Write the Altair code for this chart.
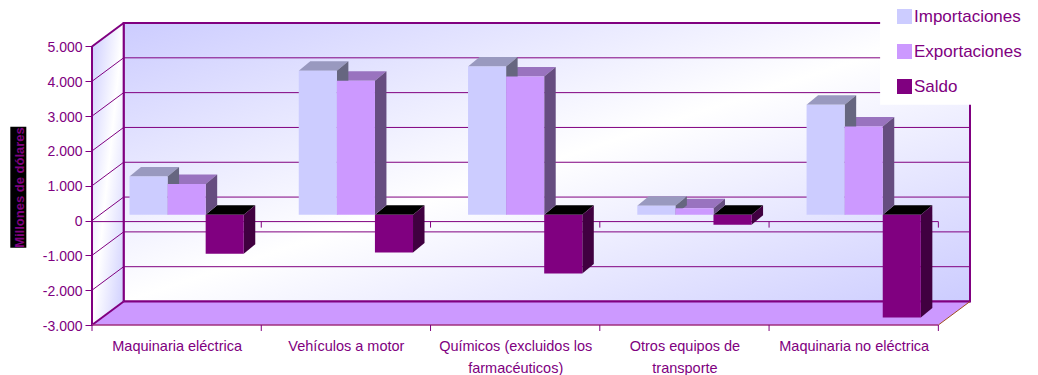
import altair as alt
import pandas as pd

categories = ["Maquinaria eléctrica", "Vehículos a motor", "Químicos (excluidos los farmacéuticos)",
              "Otros equipos de transporte", "Maquinaria no eléctrica"]
category_lines = [["Maquinaria eléctrica"], ["Vehículos a motor"],
                  ["Químicos (excluidos los", "farmacéuticos)"],
                  ["Otros equipos de", "transporte"], ["Maquinaria no eléctrica"]]
importaciones = [1100, 4134, 4258, 258, 3158]
exportaciones = [880, 3850, 3970, 190, 2535]
saldo = [-1120, -1082, -1685, -290, -2950]
series_names = ["Importaciones", "Exportaciones", "Saldo"]
series_values = [importaciones, exportaciones, saldo]
front_colors = ["#ccccff", "#cc99ff", "#800080"]
top_colors = ["#9999bf", "#9973bf", "#000000"]
side_colors = ["#666680", "#664d80", "#400040"]
y_ticks = [-3000, -2000, -1000, 0, 1000, 2000, 3000, 4000, 5000]

PURPLE = "#800080"
FONT = "Liberation Sans"
# scale domains (the 3D "room" extends beyond the front plane)
X_MAX = 5.187
Y_MIN, Y_MAX = -3000, 5675
WALL_DX, WALL_DY = 0.187, 675          # depth of the room
BAR_START, BAR_W = 0.2215, 0.225       # bar placement inside a category
BAR_BASE = 167                         # bar base plane above the zero plane
BAR_DX, BAR_DY = 0.068, 273            # depth of a bar
TICK = 172
ZERO_NUDGE = -30

xs = alt.Scale(domain=[0, X_MAX], nice=False, zero=False)
ys = alt.Scale(domain=[Y_MIN, Y_MAX], nice=False, zero=False)
X = lambda f="x": alt.X(f"{f}:Q", scale=xs, axis=None)
Y = lambda f="y": alt.Y(f"{f}:Q", scale=ys, axis=None)


def rule(rows, color=PURPLE, width=1.0):
    return alt.Chart(pd.DataFrame(rows)).mark_rule(color=color, strokeWidth=width).encode(
        x=X(), x2="x2:Q", y=Y(), y2="y2:Q")


def seg(x, y, x2, y2):
    return dict(x=x, y=y, x2=x2, y2=y2)


diag = {"gradient": "linear", "x1": 0, "y1": 0, "x2": 1, "y2": 1,
        "stops": [{"offset": 0, "color": "#ccccff"},
                  {"offset": 0.5, "color": "#ffffff"},
                  {"offset": 1, "color": "#ccccff"}]}

# axes layer (carries the real axes)
axis_df = pd.DataFrame({"x": [0.5, 1.5, 2.5, 3.5, 4.5], "y": [Y_MIN] * 5})
names_expr = "[" + ",".join(
    "[" + ",".join('"%s"' % s for s in lines) + "]" for lines in category_lines
) + "][floor(datum.value)]"
axes = alt.Chart(axis_df).mark_point(opacity=0).encode(
    x=alt.X("x:Q", scale=xs, title=None, axis=alt.Axis(
        values=[0.5, 1.5, 2.5, 3.5, 4.5], labelExpr=names_expr, ticks=False, domain=False, grid=False,
        labelFont=FONT, labelFontSize=14.5, labelColor=PURPLE, labelPadding=14, labelLineHeight=22,
        labelBaseline="top", labelAlign="center", labelOverlap=False, labelBound=False, labelFlush=False,
        zindex=1)),
    y=alt.Y("y:Q", scale=ys, title="Millones de dólares", axis=alt.Axis(
        values=y_ticks, domain=False, grid=False, zindex=1, tickSize=7, tickColor=PURPLE, tickWidth=1,
        labelExpr="(datum.value<0?'-':'')+replace(format(abs(datum.value),','),',','.')",
        labelFont=FONT, labelFontSize=14, labelColor=PURPLE, labelPadding=3, labelOffset=1, labelOverlap=False,
        labelBound=False, labelFlush=False,
        titleFont=FONT, titleFontSize=13, titleFontWeight="bold", titleColor=PURPLE, titleAngle=270,
        titleX=-73, titleY=164, titleBaseline="middle", titleAlign="center")),
)

# back wall
wall = alt.Chart(pd.DataFrame([dict(x=WALL_DX, x2=X_MAX, y=Y_MIN + WALL_DY, y2=Y_MAX)])).mark_rect(
    fill=diag, stroke=PURPLE, strokeWidth=2).encode(x=X(), x2="x2:Q", y=Y(), y2="y2:Q")
# left wall
left_wall = alt.Chart(pd.DataFrame([
    dict(x=0, y=Y_MIN, y2=5000), dict(x=WALL_DX, y=Y_MIN + WALL_DY, y2=5000 + WALL_DY)
])).mark_area(orient="vertical", fill=diag).encode(x=X(), y=Y(), y2="y2:Q")
# floor
floor = alt.Chart(pd.DataFrame([
    dict(y=Y_MIN, x=0, x2=5), dict(y=Y_MIN + WALL_DY, x=WALL_DX, x2=X_MAX)
])).mark_area(orient="horizontal", fill="#cc99ff").encode(x=X(), x2="x2:Q", y=Y())

back_grid = rule([seg(WALL_DX, v + WALL_DY, X_MAX, v + WALL_DY) for v in y_ticks[1:-1]])
side_grid = rule([seg(0, v, WALL_DX, v + WALL_DY) for v in y_ticks[1:-1]])
edges = rule([seg(0, 5000, WALL_DX, 5000 + WALL_DY), seg(0, Y_MIN, WALL_DX, Y_MIN + WALL_DY),
              seg(0, Y_MIN, 0, 5000), seg(WALL_DX, Y_MIN + WALL_DY, WALL_DX, Y_MAX),
              seg(WALL_DX, Y_MIN + WALL_DY, X_MAX, Y_MIN + WALL_DY)], width=2)
front_edge = rule([seg(0, Y_MIN, 5, Y_MIN)], color="#a0307f", width=1.5)
right_edge = rule([seg(5, Y_MIN, X_MAX, Y_MIN + WALL_DY)], color="#a0501e", width=1)
zero_line = rule([seg(0, ZERO_NUDGE, 5, ZERO_NUDGE)])
zero_ticks = rule([seg(i, ZERO_NUDGE, i, ZERO_NUDGE - TICK) for i in range(1, 6)])
floor_ticks = rule([seg(i, Y_MIN, i, Y_MIN - TICK) for i in range(0, 6)])

# bars
fronts, tops, sides = [], [], []
for c in range(len(categories)):
    for s, vals in enumerate(series_values):
        v = vals[c]
        x0 = c + BAR_START + s * BAR_W
        x1 = x0 + BAR_W
        hi = BAR_BASE + max(v, 0)
        lo = BAR_BASE + min(v, 0)
        bid = f"{c}-{s}"
        fronts.append(dict(serie=series_names[s], x=x0, x2=x1, y=lo, y2=hi))
        tops.append(dict(bid=bid, col=top_colors[s], y=hi, x=x0, x2=x1))
        tops.append(dict(bid=bid, col=top_colors[s], y=hi + BAR_DY, x=x0 + BAR_DX, x2=x1 + BAR_DX))
        sides.append(dict(bid=bid, col=side_colors[s], x=x1, y=lo, y2=hi))
        sides.append(dict(bid=bid, col=side_colors[s], x=x1 + BAR_DX, y=lo + BAR_DY, y2=hi + BAR_DY))

top_faces = alt.Chart(pd.DataFrame(tops)).mark_area(orient="horizontal").encode(
    x=X(), x2="x2:Q", y=Y(), detail="bid:N", fill=alt.Fill("col:N", scale=None, legend=None))
side_faces = alt.Chart(pd.DataFrame(sides)).mark_area(orient="vertical").encode(
    x=X(), y=Y(), y2="y2:Q", detail="bid:N", fill=alt.Fill("col:N", scale=None, legend=None))
front_faces = alt.Chart(pd.DataFrame(fronts)).mark_rect(opacity=1).encode(
    x=X(), x2="x2:Q", y=Y(), y2="y2:Q",
    color=alt.Color("serie:N", sort=series_names,
                    scale=alt.Scale(domain=series_names, range=front_colors),
                    legend=alt.Legend(title=None, orient="none", legendX=804, legendY=-15, padding=0,
                                      symbolType="square", symbolSize=225, symbolStrokeWidth=0,
                                      symbolOpacity=1, labelFont=FONT, labelFontSize=17, labelColor=PURPLE,
                                      labelOffset=1, rowPadding=17, labelLimit=200)))

# white box behind the legend, black box behind the rotated title
white_box = alt.Chart(pd.DataFrame([dict(x=4.656, x2=5.6, y=3325, y2=6340)])).mark_rect(
    fill="white").encode(x=X(), x2="x2:Q", y=Y(), y2="y2:Q")
black_box = alt.Chart(pd.DataFrame([dict(x=-0.4826, x2=-0.388, y=-781, y2=2693)])).mark_rect(
    fill="black").encode(x=X(), x2="x2:Q", y=Y(), y2="y2:Q")

chart = alt.layer(
    axes, black_box, wall, left_wall, floor, back_grid, side_grid, edges, right_edge, front_edge,
    zero_line, zero_ticks, floor_ticks, top_faces, side_faces, front_faces, white_box
).resolve_scale(fill="independent").resolve_axis(x="independent", y="independent").properties(
    width=878, height=302, background="white",
    autosize=alt.AutoSizeParams(type="none", contains="content"),
    padding={"left": 84, "top": 15, "right": 60, "bottom": 50},
).configure_view(stroke=None)

chart.save("out.html", embed_options={"renderer": "svg", "actions": False})
